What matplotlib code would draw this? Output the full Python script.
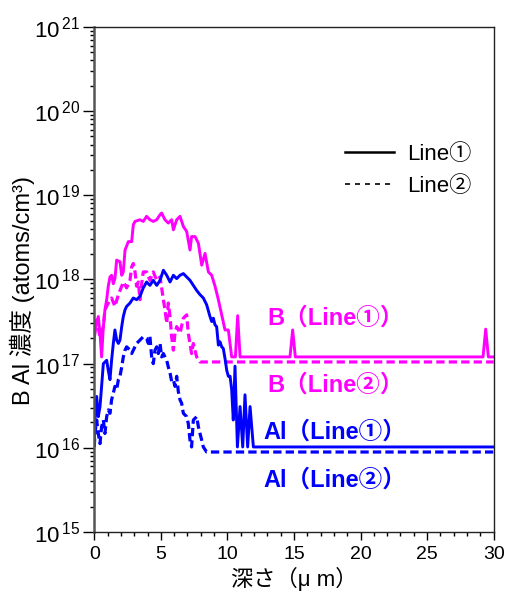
import numpy as np
import matplotlib
matplotlib.use("Agg")
import matplotlib.pyplot as plt
from matplotlib.lines import Line2D
from matplotlib.ticker import FixedLocator, LogLocator, MultipleLocator, NullFormatter

plt.rcParams["font.family"] = ["Liberation Sans", "Noto Sans CJK JP", "DejaVu Sans"]
plt.rcParams["mathtext.fontset"] = "custom"
plt.rcParams["mathtext.rm"] = "Liberation Sans"

# depth (um) and log10 concentration (atoms/cm3) for each profile
b1_depth = [0.0, 0.05, 0.30, 0.43, 0.55, 0.68, 0.80, 0.93, 1.05, 1.18, 1.30, 1.43,
            1.55, 1.68, 1.93, 2.06, 2.18, 2.31, 2.56, 2.81, 2.93, 3.06, 3.43, 3.68,
            3.93, 4.18, 4.43, 4.69, 4.94, 5.06, 5.31, 5.56, 5.81, 5.94, 6.19, 6.44,
            6.69, 6.94, 7.19, 7.31, 7.57, 7.82, 8.07, 8.32, 8.57, 8.82, 9.07, 9.32,
            9.57, 9.82, 10.07, 10.32, 10.60, 10.77, 10.95, 14.70, 14.90, 15.10,
            29.20, 29.40, 29.60, 30.0]
b1_log = [17.28, 17.40, 17.56, 17.36, 17.08, 17.44, 17.64, 17.76, 17.92, 18.03, 18.05, 17.95,
          18.01, 18.23, 18.21, 18.05, 18.09, 18.35, 18.45, 18.45, 18.65, 18.69, 18.71, 18.69,
          18.75, 18.71, 18.69, 18.71, 18.77, 18.79, 18.71, 18.67, 18.71, 18.59, 18.71, 18.75,
          18.63, 18.57, 18.35, 18.51, 18.51, 18.43, 18.17, 18.31, 18.09, 18.05, 17.92, 17.76,
          17.58, 17.40, 17.40, 17.08, 17.08, 17.57, 17.08, 17.08, 17.40, 17.08,
          17.08, 17.41, 17.08, 17.08]

b2_depth = [0.0, 0.18, 0.43, 0.68, 0.80, 1.05, 1.30, 1.55, 1.81, 2.06, 2.18, 2.43,
            2.68, 2.81, 2.93, 3.06, 3.18, 3.31, 3.43, 3.56, 3.68, 3.93, 4.18, 4.43,
            4.69, 4.94, 5.19, 5.31, 5.44, 5.56, 5.69, 5.81, 5.94, 6.06, 6.19, 6.44,
            6.69, 6.94, 7.06, 7.31, 7.44, 7.69, 7.94, 30.0]
b2_log = [17.32, 17.52, 17.32, 17.44, 17.64, 17.72, 17.78, 17.68, 17.82, 17.92, 17.97, 17.90,
          17.99, 18.15, 18.19, 18.09, 17.92, 17.97, 17.76, 17.95, 18.09, 18.09, 17.99, 18.09,
          17.99, 18.03, 17.76, 17.64, 17.48, 17.72, 17.56, 17.32, 17.16, 17.36, 17.44, 17.36,
          17.54, 17.58, 17.36, 17.12, 17.24, 17.08, 17.02, 17.02]

al1_depth = [0.0, 0.05, 0.18, 0.30, 0.43, 0.55, 0.68, 0.93, 1.05, 1.18, 1.30, 1.43,
             1.55, 1.68, 1.81, 1.93, 2.06, 2.18, 2.31, 2.43, 2.68, 2.93, 3.18, 3.43,
             3.68, 3.93, 4.18, 4.43, 4.69, 4.94, 5.19, 5.44, 5.69, 5.94, 6.19, 6.44,
             6.69, 6.94, 7.19, 7.44, 7.69, 7.94, 8.19, 8.44, 8.69, 8.82, 8.94, 9.07,
             9.19, 9.32, 9.44, 9.57, 9.69, 9.82, 9.95, 10.07, 10.20, 10.32, 10.44, 10.57,
             10.75, 10.95, 11.15, 11.32, 11.52, 11.70, 11.95, 30.0]
al1_log = [16.09, 16.33, 16.61, 16.37, 16.49, 16.73, 17.00, 17.04, 16.92, 16.81, 17.04, 17.24,
           17.40, 17.28, 17.24, 17.28, 17.44, 17.56, 17.64, 17.68, 17.72, 17.78, 17.76, 17.80,
           17.90, 17.97, 17.93, 17.99, 17.93, 17.99, 18.11, 18.05, 17.97, 18.05, 18.01, 18.05,
           18.07, 18.03, 17.99, 17.93, 17.87, 17.82, 17.78, 17.70, 17.56, 17.50, 17.54, 17.46,
           17.44, 17.22, 17.26, 17.20, 17.18, 17.06, 16.92, 16.85, 16.85, 16.69, 16.33, 16.97,
           16.01, 16.49, 16.01, 16.63, 16.01, 16.49, 16.01, 16.01]

al2_depth = [0.0, 0.05, 0.18, 0.30, 0.43, 0.55, 0.68, 0.80, 0.93, 1.05, 1.18, 1.30,
             1.43, 1.55, 1.68, 1.81, 1.93, 2.06, 2.18, 2.31, 2.43, 2.56, 2.68, 2.81,
             2.93, 3.18, 3.43, 3.68, 3.93, 4.06, 4.18, 4.31, 4.43, 4.56, 4.69, 4.81,
             4.94, 5.06, 5.19, 5.31, 5.44, 5.56, 5.69, 5.81, 5.94, 6.06, 6.19, 6.31,
             6.44, 6.56, 6.69, 6.94, 7.06, 7.19, 7.31, 7.44, 7.69, 7.82, 7.94, 8.07,
             8.19, 8.44, 30.0]
al2_log = [16.01, 16.17, 16.33, 16.17, 16.05, 16.25, 16.33, 16.17, 16.37, 16.45, 16.41, 16.57,
           16.65, 16.73, 16.69, 16.81, 16.85, 16.96, 17.08, 17.16, 17.20, 17.18, 17.16, 17.12,
           17.16, 17.24, 17.28, 17.32, 17.30, 17.24, 17.32, 17.08, 17.00, 17.16, 17.20, 17.12,
           17.24, 17.08, 17.12, 17.08, 17.04, 16.96, 16.89, 16.79, 16.81, 16.73, 16.85, 16.67,
           16.57, 16.53, 16.41, 16.37, 16.29, 16.09, 16.01, 16.33, 16.37, 16.25, 16.17, 16.09,
           16.01, 15.95, 15.95]

magenta = "#ff00ff"
blue = "#0000ff"
dash = (0, (2.6, 1.3))

fig = plt.figure(figsize=(5.05, 5.92), dpi=100)
ax = fig.add_axes([0.1867, 0.1014, 0.7909, 0.853])

ax.plot(b1_depth, 10 ** np.array(b1_log), color=magenta, lw=2.1)
ax.plot(b2_depth, 10 ** np.array(b2_log), color=magenta, lw=2.3, ls=dash)
ax.plot(al1_depth, 10 ** np.array(al1_log), color=blue, lw=2.1)
ax.plot(al2_depth, 10 ** np.array(al2_log), color=blue, lw=2.3, ls=dash)

ax.set_yscale("log")
ax.set_xlim(0, 30)
ax.set_ylim(1e15, 1e21)

ax.xaxis.set_major_locator(MultipleLocator(5))
ax.xaxis.set_minor_locator(MultipleLocator(1))
decades = [1e15, 1e16, 1e17, 1e18, 1e19, 1e20, 1e21]
ax.yaxis.set_major_locator(FixedLocator(decades))
ax.set_yticklabels([r"$\mathregular{10^{\,%d}}$" % e for e in range(15, 22)])
ax.yaxis.set_minor_locator(LogLocator(base=10, subs=np.arange(2, 10)))
ax.yaxis.set_minor_formatter(NullFormatter())

ax.tick_params(axis="x", which="major", direction="out", length=6, width=1, labelsize=14, pad=4)
ax.tick_params(axis="x", which="minor", direction="out", length=3, width=1)
ax.tick_params(axis="y", which="major", direction="out", length=8, width=1, labelsize=16, pad=2)
ax.tick_params(axis="y", which="minor", direction="out", length=3, width=1)

for side in ["top", "right", "bottom"]:
    ax.spines[side].set_linewidth(1.0)
    ax.spines[side].set_color("#222222")
ax.spines["left"].set_linewidth(1.8)
ax.spines["left"].set_color("#555555")

ax.set_xlabel("深さ（μ m）", fontsize=16, labelpad=3)
ax.set_ylabel("B Al 濃度 (atoms/cm³)", fontsize=17)
ax.yaxis.set_label_coords(-0.148, 0.479)

# labels beside the profiles
ax.text(18.1, 3.5e17, "B（Line①）", color=magenta, fontsize=17, fontweight="bold",
        ha="center", va="center")
ax.text(18.1, 5.6e16, "B（Line②）", color=magenta, fontsize=17, fontweight="bold",
        ha="center", va="center")
ax.text(18.1, 1.55e16, "Al（Line①）", color=blue, fontsize=17, fontweight="bold",
        ha="center", va="center")
ax.text(18.1, 4.1e15, "Al（Line②）", color=blue, fontsize=17, fontweight="bold",
        ha="center", va="center")

handles = [Line2D([0], [0], color="black", lw=1.8),
           Line2D([0], [0], color="black", lw=1.2, ls=(0, (3, 3)))]
ax.legend(handles, ["Line①", "Line②"], loc="upper left", bbox_to_anchor=(0.578, 0.808),
          frameon=False, fontsize=16, handlelength=2.2, handletextpad=0.6,
          labelspacing=0.5)

fig.savefig("out.png", dpi=100)
